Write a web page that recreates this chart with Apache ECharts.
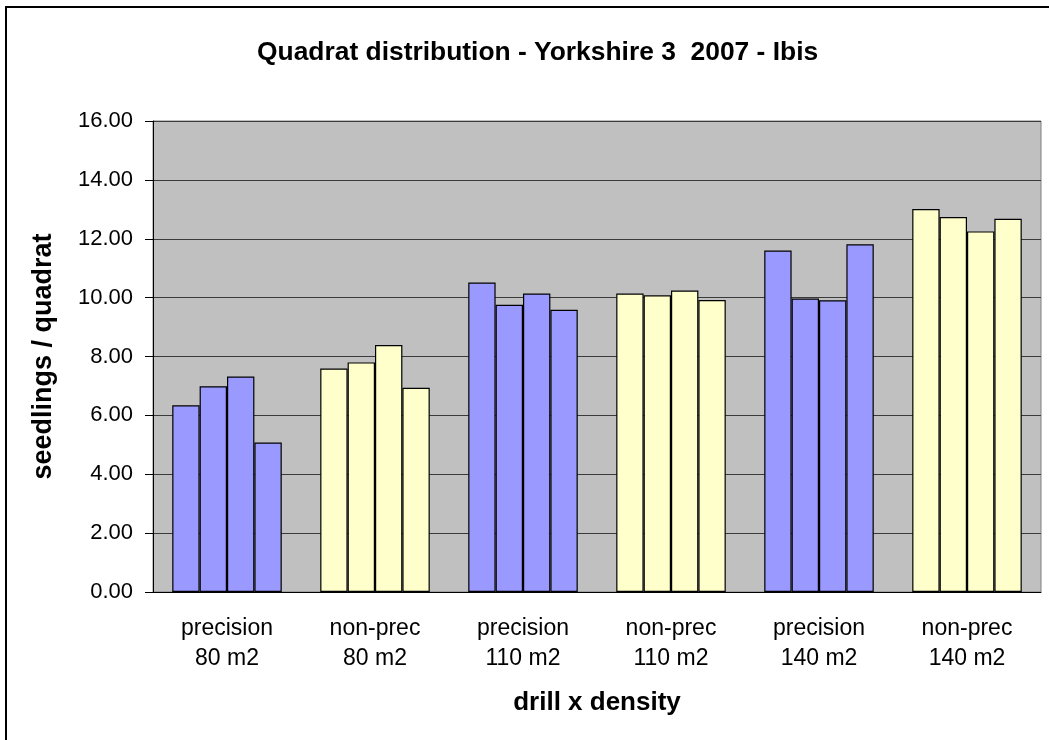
<!DOCTYPE html>
<html>
<head>
<meta charset="utf-8">
<script src="https://cdn.jsdelivr.net/npm/echarts@6/dist/echarts.min.js"></script>
<style>
html, body { margin: 0; padding: 0; background: #fff; }
#main { width: 1049px; height: 740px; }
</style>
</head>
<body>
<div id="main"></div>
<script>
var categories = ['precision\n80 m2', 'non-prec\n80 m2', 'precision\n110 m2',
                  'non-prec\n110 m2', 'precision\n140 m2', 'non-prec\n140 m2'];
var drillType = ['precision', 'non-prec', 'precision', 'non-prec', 'precision', 'non-prec'];
var quadrat1 = [6.34, 7.59, 10.51, 10.14, 11.60, 13.01];
var quadrat2 = [6.99, 7.80, 9.76, 10.08, 9.97, 12.74];
var quadrat3 = [7.32, 8.39, 10.14, 10.24, 9.91, 12.25];
var quadrat4 = [5.08, 6.94, 9.59, 9.92, 11.81, 12.68];
var yTicks = [0, 2, 4, 6, 8, 10, 12, 14, 16];

var colors = { 'precision': '#9999FF', 'non-prec': '#FFFFCC' };

function makeSeries(name, values) {
    return {
        name: name,
        type: 'bar',
        barGap: 0,
        barCategoryGap: '26%',
        data: values.map(function (v, i) {
            return { value: v, itemStyle: { color: colors[drillType[i]] } };
        }),
        itemStyle: { borderColor: '#000', borderWidth: 1.2 }
    };
}

var myChart = echarts.init(document.getElementById('main'));
var font = '"Liberation Sans", Arial, sans-serif';

option = {
    animation: false,
    textStyle: { fontFamily: font },
    title: {
        text: 'Quadrat distribution - Yorkshire 3  2007 - Ibis',
        left: 252,
        top: 35,
        textStyle: { fontFamily: font, fontSize: 26.4, fontWeight: 'bold', color: '#000' }
    },
    graphic: [{
        type: 'rect',
        shape: { x: 6, y: 7, width: 1100, height: 800 },
        style: { fill: null, stroke: '#000', lineWidth: 2 },
        silent: true
    }],
    grid: {
        left: 153,
        right: 8,
        top: 121,
        bottom: 148,
        show: true,
        backgroundColor: '#C0C0C0',
        borderColor: '#808080',
        borderWidth: 1
    },
    xAxis: [{
        type: 'category',
        data: categories,
        name: 'drill x density',
        nameLocation: 'middle',
        nameGap: 98,
        nameTextStyle: { fontFamily: font, fontSize: 26, fontWeight: 'bold', color: '#000' },
        axisLine: { lineStyle: { color: '#000', width: 1 } },
        axisTick: { length: 8, lineStyle: { color: '#000' } },
        axisLabel: { fontFamily: font, fontSize: 23, lineHeight: 29.5, margin: 22, color: '#000' }
    }],
    yAxis: [{
        type: 'value',
        min: yTicks[0],
        max: yTicks[yTicks.length - 1],
        interval: 2,
        name: 'seedlings / quadrat',
        nameLocation: 'middle',
        nameGap: 96,
        nameTextStyle: { fontFamily: font, fontSize: 27, fontWeight: 'bold', color: '#000' },
        axisLine: { show: true, lineStyle: { color: '#000', width: 1 } },
        axisTick: { show: true, length: 8, lineStyle: { color: '#000' } },
        axisLabel: {
            fontFamily: font, fontSize: 22, margin: 20, color: '#000',
            formatter: function (v) { return v.toFixed(2); }
        },
        splitLine: { lineStyle: { color: '#3a3a3a', width: 1 } }
    }],
    series: [
        makeSeries('Quadrat 1', quadrat1),
        makeSeries('Quadrat 2', quadrat2),
        makeSeries('Quadrat 3', quadrat3),
        makeSeries('Quadrat 4', quadrat4)
    ]
};

myChart.setOption(option);

window.onresize = function () {
    myChart.resize();
};
</script>
</body>
</html>
